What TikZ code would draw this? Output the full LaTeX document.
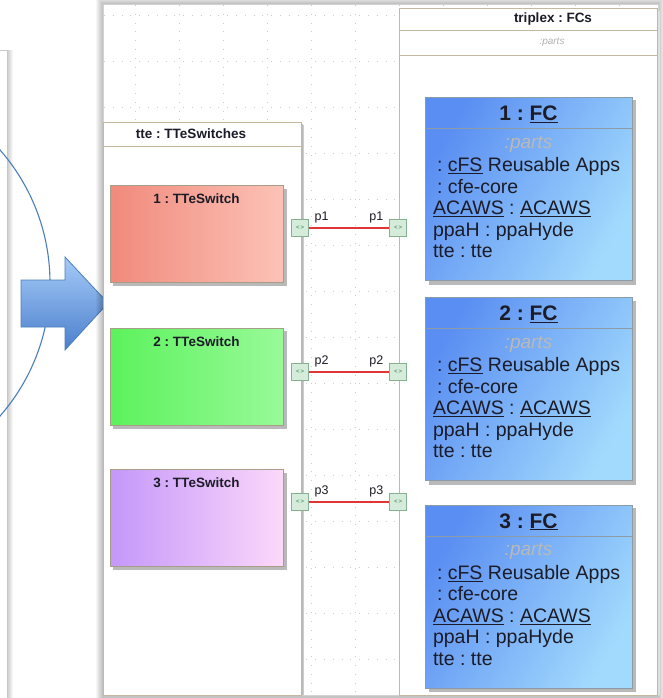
\documentclass[tikz,border=0pt]{standalone}
\usepackage{fontspec}
\setmainfont{Liberation Sans}
\usetikzlibrary{positioning}
\frenchspacing

\definecolor{arcblue}{HTML}{4A7EBB}
\definecolor{arrtop}{HTML}{A6CAF8}
\definecolor{arrbot}{HTML}{4A80CC}
\definecolor{frametan}{HTML}{C4B89E}
\definecolor{boxedge}{HTML}{A89E88}
\definecolor{fcL}{HTML}{5A8EF2}
\definecolor{fcR}{HTML}{A2DAFD}
\definecolor{fcedge}{HTML}{8C9CA6}
\definecolor{redL}{HTML}{F08A7C}
\definecolor{redR}{HTML}{FCC2B6}
\definecolor{greenL}{HTML}{5CF25C}
\definecolor{greenR}{HTML}{98FA98}
\definecolor{purpL}{HTML}{C497FA}
\definecolor{purpR}{HTML}{FCD8FA}
\definecolor{portfill}{HTML}{D6ECDA}
\definecolor{portedge}{HTML}{86B092}
\definecolor{portarr}{HTML}{5E9E74}
\definecolor{wirered}{HTML}{E23434}
\definecolor{inktext}{HTML}{1C1C28}

\tikzset{
  switchbox/.style={draw=boxedge,minimum width=173,minimum height=97,inner sep=0},
  fcbox/.style={draw=fcedge,left color=fcL,right color=fcR,shading angle=60,
    minimum width=207,minimum height=183,inner sep=0},
  boxshadow/.style={fill=gray!55,draw=none},
  portbox/.style={draw=portedge,fill=portfill,minimum size=17,inner sep=0,
    font=\fontsize{6}{6}\selectfont\bfseries,text=portarr},
  wire/.style={wirered,line width=1.6pt},
  portlabel/.style={font=\fontsize{12.5}{12.5}\selectfont,text=inktext,inner sep=1pt},
  smalltitle/.style={font=\fontsize{13.5}{13.5}\selectfont\bfseries,text=inktext},
  fctitle/.style={font=\fontsize{21}{21}\selectfont\bfseries,text=inktext},
  fcparts/.style={font=\fontsize{19}{19}\selectfont\itshape,text=gray!55},
  fcbody/.style={font=\fontsize{19.5}{21.5}\selectfont,text=inktext,align=left,inner sep=0},
  griddot/.style={gray!40,line width=0.8pt,dash pattern=on 0.8pt off 8pt}
}

\begin{document}
\begin{tikzpicture}[x=1pt,y=-1pt]
\useasboundingbox (0,0) rectangle (663,698);
\fill[white] (0,0) rectangle (663,698);

% left panel and its shadow
\foreach \i in {1,...,6}
  \fill[black,opacity=0.035] (0,50) rectangle (7+\i,698);
\fill[white] (0,51) rectangle (7,698);
\draw[gray!45] (0,50) -- (7,50) -- (7,698);

% circle arc and block arrow
\begin{scope}
  \clip (0,0) rectangle (100,698);
  \draw[arcblue,line width=1.1pt] (-152,283) circle (202);
\end{scope}
\draw[arcblue,line width=0.8pt,top color=arrtop,bottom color=arrbot]
  (21,280) -- (65,280) -- (65,257) -- (108,303) -- (65,350) -- (65,327) -- (21,327) -- cycle;

% main panel
\foreach \i in {1,...,7}
  \fill[black,opacity=0.035] (103-\i,4-\i) rectangle (658+\i,698);
\fill[white] (103,4) rectangle (658,695);
\draw[gray!35] (103,4) rectangle (658,695);

% grid
\begin{scope}
  \clip (104,5) rectangle (657,694);
  \foreach \y in {15,61,...,700}
    \draw[griddot] (104,\y) -- (657,\y);
  \foreach \x in {135,179,...,660}
    \draw[griddot] (\x,5) -- (\x,694);
\end{scope}

% frames
\fill[gray!40] (106,125) rectangle (304,695);
\draw[frametan,fill=white] (103,122) rectangle (301,695);
\draw[frametan] (103,146) -- (301,146);
\draw[gray!55,line width=1.2pt] (302.5,124) -- (302.5,695);
\node[smalltitle] (ttetitle) at (191,134) {tte : TTeSwitches};

\fill[gray!25] (402,11) rectangle (660,695);
\draw[frametan,fill=white] (399,8) rectangle (657,695);
\draw[frametan] (399,30) -- (657,30) (399,55) -- (657,55);
\node[smalltitle] (fcstitle) at (553,19) {triplex : FCs};
\node[font=\fontsize{10}{10}\selectfont\itshape,text=gray!60] (fcsparts) at (552,42) {:parts};

% switches
\foreach \n/\y/\lc/\rc in {1/234/redL/redR,2/376.5/greenL/greenR,3/518/purpL/purpR}{
  \fill[boxshadow] (113,\y-45.5) rectangle (287,\y+52);
  \node[switchbox,left color=\lc,right color=\rc] (sw\n) at (196.5,\y) {};
  \node[smalltitle,below=5pt of sw\n.north] (swt\n) {\n{} : TTeSwitch};
}

% FC parts
\foreach \n/\y in {1/189,2/389,3/596.5}{
  \fill[boxshadow] (429,\y-88.5) rectangle (636,\y+95.5);
  \node[fcbox] (fc\n) at (528.5,\y) {};
  \draw[fcedge] ([yshift=-31pt]fc\n.north west) -- ([yshift=-31pt]fc\n.north east);
  \node[fctitle,below=5pt of fc\n.north] (fct\n) {\n{} : \underline{FC}};
  \node[fcparts,below=35pt of fc\n.north] (fcp\n) {:parts};
  \node[fcbody,anchor=north west] (fcb\n) at ([xshift=8pt,yshift=-60pt]fc\n.north west)
    {\hspace{4pt}: \underline{cFS} Reusable Apps\\
     \hspace{4pt}: cfe-core\\
     \underline{ACAWS} : \underline{ACAWS}\\
     ppaH : ppaHyde\\
     tte : tte};
}

% ports and connectors
\foreach \n/\y in {1/228,2/372,3/502}{
  \node[portbox] (pl\n) at (300,\y) {<\,>};
  \node[portbox] (pr\n) at (398,\y) {<\,>};
  \draw[wire] (pl\n) -- (pr\n)
    node[portlabel,pos=0.16,above=3pt] {p\n}
    node[portlabel,pos=0.84,above=3pt] {p\n};
}
\end{tikzpicture}
\end{document}
